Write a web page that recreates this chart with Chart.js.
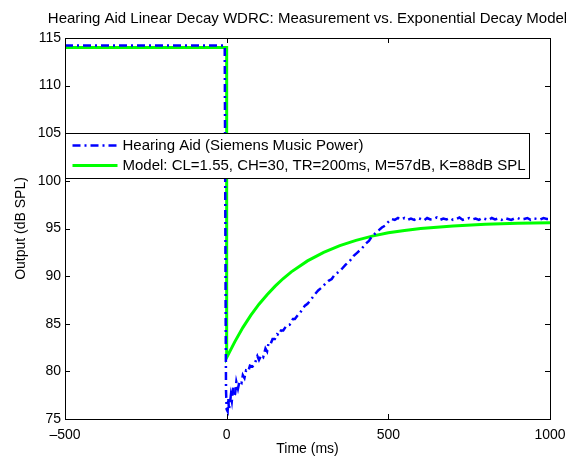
<!DOCTYPE html>
<html lang="en">
<head>
  <meta charset="UTF-8">
  <title>Hearing Aid Linear Decay WDRC</title>
  <style>
    body { margin: 0; background: #fff; }
    canvas { display: block; }
  </style>
</head>
<body>
<canvas id="decayChart" width="566" height="458"></canvas>

<script src="https://cdn.jsdelivr.net/npm/chart.js"></script>
<script>
  // Measured hearing aid output (ms, dB SPL)
  const aidTimes = [-500, -400, -300, -200, -100, -6, -5, -4, -3, -2, 0, 3, 5, 7, 10, 13, 16, 20, 23, 26,
    30, 35, 40, 46, 50, 55, 60, 67, 72, 80, 88, 95, 100, 107, 113, 120, 125, 129, 135, 142,
    149, 156, 162, 168, 175, 185, 195, 205, 211, 220, 230, 242, 250, 260, 273, 283, 294, 305, 315, 325,
    335, 345, 356, 368, 381, 392, 405, 418, 430, 440, 448, 460, 470, 480, 490, 500, 510, 520, 530, 540,
    550, 560, 570, 580, 590, 600, 610, 620, 630, 640, 650, 660, 670, 680, 690, 700, 710, 720, 730, 740,
    750, 760, 770, 780, 790, 800, 810, 820, 830, 840, 850, 860, 870, 880, 890, 900, 910, 920, 930, 940,
    950, 960, 970, 980, 990, 1000];
  const aidLevels = [114.2, 114.2, 114.2, 114.2, 114.2, 114.2, 105, 95, 85, 78, 76.0, 75.8, 77.2, 76.0, 76.6, 77.5, 76.9, 78.3, 77.4, 77.6,
    78.9, 78.2, 79.0, 78.8, 79.6, 79.3, 80.1, 80.0, 80.6, 80.5, 80.9, 81.6, 81.2, 81.7, 81.5, 82.4, 82.1, 82.9, 82.8, 83.4,
    83.4, 83.9, 83.8, 84.3, 84.3, 84.8, 84.9, 85.5, 85.5, 85.9, 86.3, 86.9, 87.1, 87.5, 88.1, 88.5, 88.8, 89.2, 89.5, 89.7,
    90.2, 90.4, 90.75, 91.2, 91.6, 92.1, 92.5, 92.9, 93.4, 93.7, 94.1, 94.5, 94.8, 95.1, 95.3, 95.7, 96.0, 95.9, 96.1, 95.95,
    96.1, 95.9, 96.05, 95.9, 96.1, 96.0, 95.85, 96.1, 95.95, 96.0, 96.15, 95.9, 96.05, 95.95, 96.1, 95.9, 96.0, 96.15, 95.9, 96.0,
    96.1, 95.95, 96.05, 95.9, 96.1, 96.0, 95.9, 96.1, 95.95, 96.05, 95.9, 96.1, 96.0, 95.9, 96.05, 96.1, 95.95, 96.0, 96.1, 95.9,
    96.05, 96.0, 95.95, 96.1, 96.0, 96.0];

  // Exponential decay model (ms, dB SPL)
  const modelTimes = [-500, 0, 0, 25, 50, 75, 100, 125, 150, 175, 200, 250, 300, 350, 400, 450, 500, 550, 600, 700, 800, 900, 1000];
  const modelLevels = [114.0, 114.0, 81.45, 83.1, 84.6, 85.9, 87.05, 88.05, 88.95, 89.75, 90.45, 91.6, 92.5, 93.2, 93.75, 94.2, 94.55, 94.8, 95.0, 95.25, 95.45, 95.55, 95.6];

  const xTicks = [-500, 0, 500, 1000];
  const yTicks = [75, 80, 85, 90, 95, 100, 105, 110, 115];

  const seriesNames = [
    'Hearing Aid (Siemens Music Power)',
    'Model: CL=1.55, CH=30, TR=200ms, M=57dB, K=88dB SPL'
  ];
  const chartTitle = 'Hearing Aid Linear Decay WDRC: Measurement vs. Exponential Decay Model';

  const FONT = '"Liberation Sans", Arial, Helvetica, sans-serif';

  const toPoints = (xs, ys) => xs.map((x, i) => ({ x: x, y: ys[i] }));

  // MATLAB style box, inward ticks, title and legend
  const matlabFrame = {
    id: 'matlabFrame',
    afterDatasetsDraw(chart) {
      const { ctx, chartArea: a, scales } = chart;
      ctx.save();
      // inward tick marks
      ctx.strokeStyle = '#000';
      ctx.lineWidth = 1;
      ctx.beginPath();
      xTicks.forEach(v => {
        const px = Math.round(scales.x.getPixelForValue(v)) + 0.5;
        ctx.moveTo(px, a.bottom); ctx.lineTo(px, a.bottom - 5);
        ctx.moveTo(px, a.top); ctx.lineTo(px, a.top + 5);
      });
      yTicks.forEach(v => {
        const py = Math.round(scales.y.getPixelForValue(v)) + 0.5;
        ctx.moveTo(a.left, py); ctx.lineTo(a.left + 5, py);
        ctx.moveTo(a.right, py); ctx.lineTo(a.right - 5, py);
      });
      ctx.stroke();
      ctx.strokeRect(Math.round(a.left) + 0.5, Math.round(a.top) + 0.5,
        Math.round(a.right - a.left), Math.round(a.bottom - a.top));

      // title
      ctx.fillStyle = '#000';
      ctx.font = '15px ' + FONT;
      ctx.textAlign = 'center';
      ctx.textBaseline = 'middle';
      ctx.fillText(chartTitle, (a.left + a.right) / 2, 18.5);

      // legend
      const lx = Math.round(a.left) + 0.5;
      const ly = 133.5;
      const textX = lx + 57;
      const textW = Math.max(...seriesNames.map(s => ctx.measureText(s).width));
      const bw = Math.round(textX + textW + 4 - lx);
      ctx.fillStyle = '#fff';
      ctx.fillRect(lx, ly, bw, 45);
      ctx.strokeStyle = '#000';
      ctx.strokeRect(lx, ly, bw, 45);
      chart.data.datasets.forEach((ds, i) => {
        const rowY = ly + 12 + i * 20;
        ctx.strokeStyle = ds.borderColor;
        ctx.lineWidth = ds.borderWidth;
        ctx.setLineDash(ds.borderDash || []);
        ctx.beginPath();
        ctx.moveTo(lx + 7, rowY);
        ctx.lineTo(lx + 52, rowY);
        ctx.stroke();
        ctx.setLineDash([]);
        ctx.fillStyle = '#000';
        ctx.textAlign = 'left';
        ctx.fillText(ds.label, textX, rowY);
      });
      ctx.restore();
    }
  };

  new Chart(document.getElementById('decayChart'), {
    type: 'line',
    data: {
      datasets: [
        {
          label: seriesNames[0],
          data: toPoints(aidTimes, aidLevels),
          borderColor: '#0000ff',
          borderWidth: 2.5,
          borderDash: [8, 4, 2, 4],
          pointRadius: 0,
          fill: false,
          tension: 0
        },
        {
          label: seriesNames[1],
          data: toPoints(modelTimes, modelLevels),
          borderColor: '#00ff00',
          borderWidth: 3,
          pointRadius: 0,
          fill: false,
          tension: 0
        }
      ]
    },
    options: {
      responsive: false,
      animation: false,
      layout: { padding: { top: 38, right: 16, left: 0, bottom: 0 } },
      plugins: {
        legend: { display: false },
        title: { display: false },
        tooltip: { enabled: false }
      },
      scales: {
        x: {
          type: 'linear',
          min: -500,
          max: 1000,
          afterBuildTicks: s => { s.ticks = xTicks.map(v => ({ value: v })); },
          afterFit: s => { s.height = 39; s.paddingLeft = 0; s.paddingRight = 0; },
          grid: { drawOnChartArea: false, drawTicks: false },
          border: { display: false },
          ticks: {
            color: '#000',
            padding: 8,
            maxRotation: 0,
            font: { family: FONT, size: 14 },
            callback: v => String(v).replace('-', '\u2013')
          },
          title: {
            display: true,
            text: 'Time (ms)',
            color: '#000',
            font: { family: FONT, size: 14 },
            padding: { top: 0, bottom: 0 }
          }
        },
        y: {
          min: 75,
          max: 115,
          afterBuildTicks: s => { s.ticks = yTicks.map(v => ({ value: v })); },
          afterFit: s => { s.width = 65; },
          grid: { drawOnChartArea: false, drawTicks: false },
          border: { display: false },
          ticks: {
            color: '#000',
            padding: 4,
            font: { family: FONT, size: 14 }
          },
          title: {
            display: true,
            text: 'Output (dB SPL)',
            color: '#000',
            font: { family: FONT, size: 14 },
            padding: { top: 12.5, bottom: 0 }
          }
        }
      }
    },
    plugins: [matlabFrame]
  });
</script>
</body>
</html>
